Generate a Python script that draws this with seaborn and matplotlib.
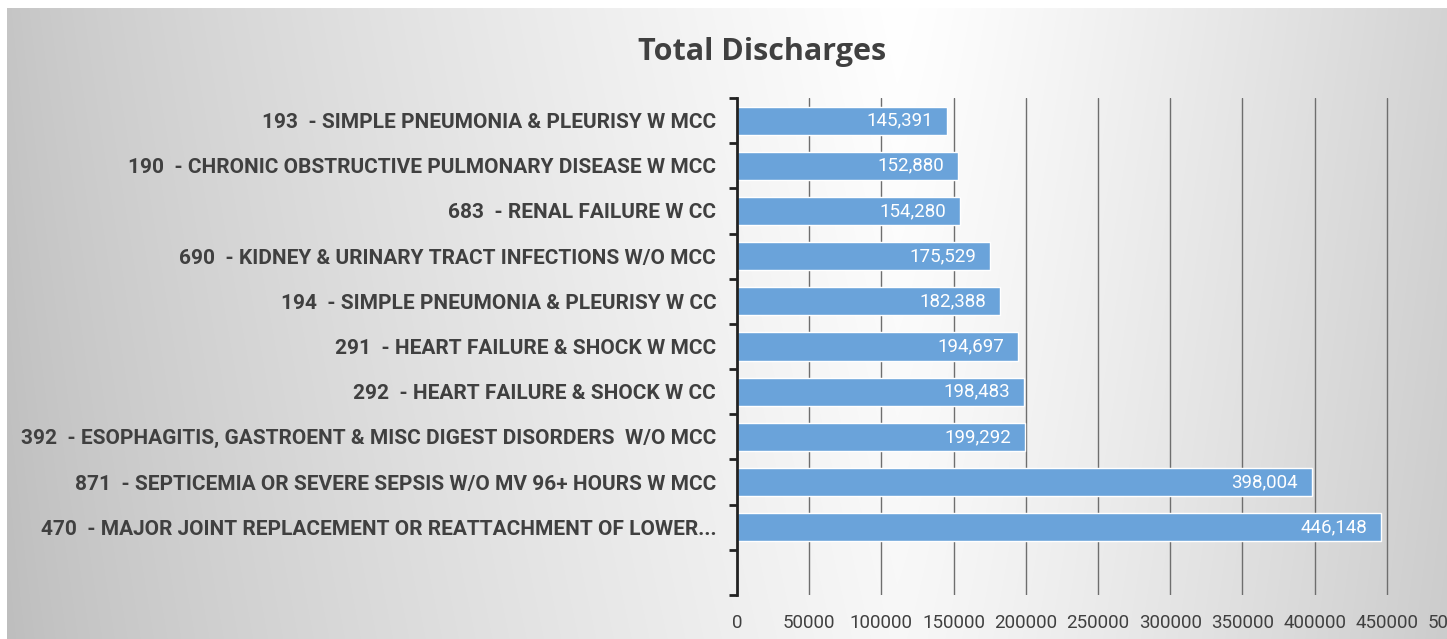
import numpy as np
import pandas as pd
import seaborn as sns
import matplotlib.pyplot as plt
from matplotlib import font_manager

# data, top to bottom as shown in the chart
drg_labels = [
    "193  - SIMPLE PNEUMONIA & PLEURISY W MCC",
    "190  - CHRONIC OBSTRUCTIVE PULMONARY DISEASE W MCC",
    "683  - RENAL FAILURE W CC",
    "690  - KIDNEY & URINARY TRACT INFECTIONS W/O MCC",
    "194  - SIMPLE PNEUMONIA & PLEURISY W CC",
    "291  - HEART FAILURE & SHOCK W MCC",
    "292  - HEART FAILURE & SHOCK W CC",
    "392  - ESOPHAGITIS, GASTROENT & MISC DIGEST DISORDERS  W/O MCC",
    "871  - SEPTICEMIA OR SEVERE SEPSIS W/O MV 96+ HOURS W MCC",
    "470  - MAJOR JOINT REPLACEMENT OR REATTACHMENT OF LOWER...",
]
discharges = [145391, 152880, 154280, 175529, 182388, 194697, 198483, 199292, 398004, 446148]
x_ticks = [0, 50000, 100000, 150000, 200000, 250000, 300000, 350000, 400000, 450000, 500000]

BAR_COLOR = "#6aa3da"
TEXT_COLOR = "#404040"

installed = {f.name for f in font_manager.fontManager.ttflist}
narrow = "Liberation Sans Narrow" if "Liberation Sans Narrow" in installed else "Roboto"

sns.set_theme(style="white")
plt.rcParams["font.family"] = [narrow, "DejaVu Sans"]

df = pd.DataFrame({"drg": drg_labels, "total": discharges})

W, H = 1447, 639
fig = plt.figure(figsize=(W / 100, H / 100), dpi=100)

# gray gradient background like the office chart area
bg = fig.add_axes([0, 0, 1, 1], zorder=-10)
xs = np.linspace(0, 1, W)
ys = np.linspace(0, 1, H)
left_part = 0.77 + 0.23 * np.clip(xs / 0.62, 0, 1) ** 0.8
right_part = 1.0 - 0.17 * np.clip((xs - 0.62) / 0.38, 0, 1) ** 1.2
row = np.where(xs < 0.62, left_part, right_part)
grad = np.tile(row, (H, 1)) - 0.03 * ys[:, None]
grad[:8, :] = 1.0
grad[:, :7] = 1.0
bg.imshow(np.dstack([grad] * 3).clip(0, 1), aspect="auto", extent=[0, 1, 0, 1])
bg.axis("off")

ax = fig.add_axes([737 / W, 44 / H, 722 / W, 497 / H])
ax.patch.set_alpha(0)
sns.barplot(data=df, x="total", y="drg", orient="h", color=BAR_COLOR,
            width=0.62, saturation=1, ax=ax)

for i, v in enumerate(df["total"]):
    ax.annotate(f"{v:,}", xy=(v, i), xytext=(-10, 0), textcoords="offset points",
                ha="right", va="center", color="white", fontsize=13.5)

ax.set_xlim(0, 500000)
ax.set_ylim(len(drg_labels) + 0.5, -0.5)
ax.set_xticks(x_ticks)
ax.set_xticklabels([str(t) for t in x_ticks])
ax.set_yticks(np.arange(-0.5, len(drg_labels) + 1, 1), minor=True)

ax.set_xlabel("")
ax.set_ylabel("")
fig.text(762 / W, 1 - 52 / H, "Total Discharges", fontsize=22, fontweight="bold",
         color=TEXT_COLOR, family=["Open Sans", "DejaVu Sans"], ha="center", va="center")

ax.grid(axis="x", color="#6e6e6e", linewidth=1)
ax.set_axisbelow(True)

for side in ["top", "right", "bottom"]:
    ax.spines[side].set_visible(False)
ax.spines["left"].set_color("#222222")
ax.spines["left"].set_linewidth(2)

ax.tick_params(axis="y", which="major", length=0, pad=15, labelsize=15, labelcolor=TEXT_COLOR)
ax.tick_params(axis="y", which="minor", left=True, length=6, width=2, color="#222222")
ax.tick_params(axis="x", length=0, pad=14, labelsize=13.5, labelcolor=TEXT_COLOR)
for lbl in ax.get_yticklabels():
    lbl.set_fontweight("bold")

fig.savefig("out.png", dpi=100)
